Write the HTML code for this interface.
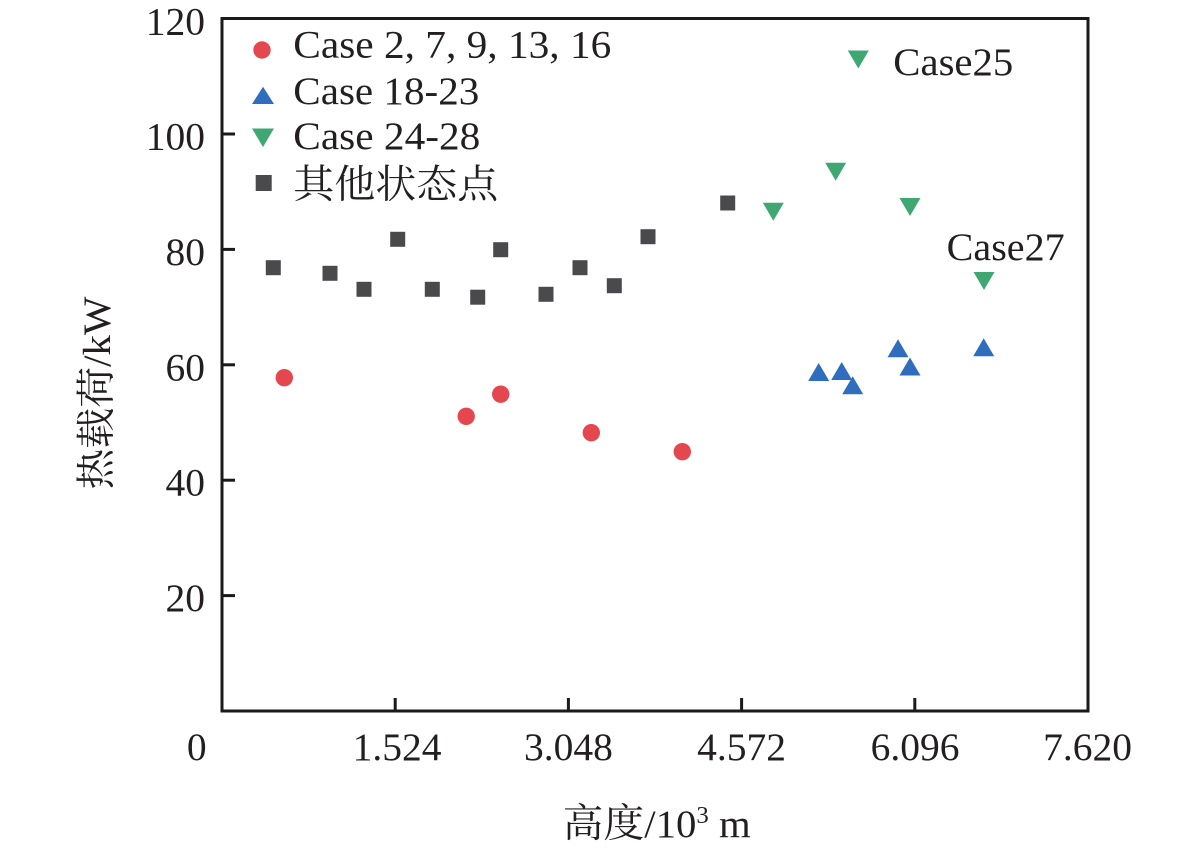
<!DOCTYPE html>
<html>
<head>
<meta charset="utf-8">
<style>
  html,body{margin:0;padding:0;background:#fff;}
  svg{display:block;}
  text{font-family:"Liberation Serif","Noto Serif CJK SC",serif;fill:#231f20;}
</style>
</head>
<body>
<svg width="1181" height="851" viewBox="0 0 1181 851" xmlns="http://www.w3.org/2000/svg">
  <!-- plot frame -->
  <rect x="222" y="18.5" width="866" height="692.5" fill="none" stroke="#1a1a1a" stroke-width="3"/>
  <!-- y ticks -->
  <g stroke="#1a1a1a" stroke-width="3">
    <line x1="222" y1="595.6" x2="235" y2="595.6"/>
    <line x1="222" y1="480.2" x2="235" y2="480.2"/>
    <line x1="222" y1="364.8" x2="235" y2="364.8"/>
    <line x1="222" y1="249.4" x2="235" y2="249.4"/>
    <line x1="222" y1="134" x2="235" y2="134"/>
    <!-- x ticks -->
    <line x1="395.2" y1="711" x2="395.2" y2="698"/>
    <line x1="568.4" y1="711" x2="568.4" y2="698"/>
    <line x1="741.6" y1="711" x2="741.6" y2="698"/>
    <line x1="914.8" y1="711" x2="914.8" y2="698"/>
  </g>
  <!-- y tick labels -->
  <g font-size="39.5" text-anchor="end">
    <text x="205" y="34.5">120</text>
    <text x="205" y="149.5">100</text>
    <text x="205" y="265">80</text>
    <text x="205" y="380.3">60</text>
    <text x="205" y="495.7">40</text>
    <text x="205" y="611.1">20</text>
  </g>
  <!-- x tick labels -->
  <g font-size="39.5" text-anchor="middle">
    <text x="196.7" y="760">0</text>
    <text x="397" y="760">1.524</text>
    <text x="568.4" y="760">3.048</text>
    <text x="741.6" y="760">4.572</text>
    <text x="915" y="760">6.096</text>
    <text x="1087.5" y="760">7.620</text>
  </g>
  <!-- axis titles -->
  <text x="562.7" y="837" font-size="39.5" textLength="188" lengthAdjust="spacingAndGlyphs">高度/10<tspan font-size="24" dy="-14">3</tspan><tspan dy="14"> m</tspan></text>
  <text transform="translate(110,393) rotate(-90)" font-size="39.5" text-anchor="middle" textLength="193" lengthAdjust="spacingAndGlyphs">热载荷/kW</text>

  <!-- gray squares -->
  <g fill="#4a4a4c">
    <rect x="265.8" y="260.2" width="15" height="15"/>
    <rect x="322.5" y="265.8" width="15" height="15"/>
    <rect x="356.5" y="281.8" width="15" height="15"/>
    <rect x="390.2" y="231.8" width="15" height="15"/>
    <rect x="424.8" y="281.8" width="15" height="15"/>
    <rect x="470.2" y="289.7" width="15" height="15"/>
    <rect x="493.2" y="242.2" width="15" height="15"/>
    <rect x="538.5" y="286.8" width="15" height="15"/>
    <rect x="572.5" y="260.2" width="15" height="15"/>
    <rect x="606.8" y="278.2" width="15" height="15"/>
    <rect x="640.5" y="229.2" width="15" height="15"/>
    <rect x="720.2" y="195.5" width="15" height="15"/>
  </g>
  <!-- red circles -->
  <g fill="#e5474e">
    <circle cx="284.3" cy="377.7" r="8.7"/>
    <circle cx="466.2" cy="416.3" r="8.7"/>
    <circle cx="500.7" cy="394.2" r="8.7"/>
    <circle cx="591.3" cy="432.7" r="8.7"/>
    <circle cx="682.3" cy="451.7" r="8.7"/>
  </g>
  <!-- green down triangles -->
  <g fill="#3fa872">
    <polygon points="847.8,50.5 868.8,50.5 858.3,68.5"/>
    <polygon points="825.2,162.7 846.2,162.7 835.7,180.7"/>
    <polygon points="762.8,202.7 783.8,202.7 773.3,220.7"/>
    <polygon points="899.5,198 920.5,198 910,216"/>
    <polygon points="973.5,272 994.5,272 984,290"/>
  </g>
  <!-- blue up triangles -->
  <g fill="#2f6dbd">
    <polygon points="808.2,381 829.2,381 818.7,363"/>
    <polygon points="831.2,380 852.2,380 841.7,362"/>
    <polygon points="842.2,394.3 863.2,394.3 852.7,376.3"/>
    <polygon points="887.5,357.3 908.5,357.3 898,339.3"/>
    <polygon points="899.5,375.5 920.5,375.5 910,357.5"/>
    <polygon points="973.2,356.2 994.2,356.2 983.7,338.2"/>
  </g>
  <!-- annotations -->
  <text x="893.3" y="75" font-size="39.5" textLength="120" lengthAdjust="spacingAndGlyphs">Case25</text>
  <text x="946.7" y="260" font-size="39.5" textLength="118" lengthAdjust="spacingAndGlyphs">Case27</text>

  <!-- legend -->
  <circle cx="262" cy="50" r="8.7" fill="#e5474e"/>
  <polygon points="252,104 274,104 263,86.7" fill="#2f6dbd"/>
  <polygon points="252,128.5 274,128.5 263,147" fill="#3fa872"/>
  <rect x="255.7" y="175" width="16" height="16" fill="#4a4a4c"/>
  <g font-size="39.5">
    <text x="293.3" y="57.5" textLength="318" lengthAdjust="spacingAndGlyphs">Case 2, 7, 9, 13, 16</text>
    <text x="293.3" y="104" textLength="186" lengthAdjust="spacingAndGlyphs">Case 18-23</text>
    <text x="293.3" y="149" textLength="187" lengthAdjust="spacingAndGlyphs">Case 24-28</text>
    <text x="293.3" y="198" textLength="205" lengthAdjust="spacingAndGlyphs">其他状态点</text>
  </g>
</svg>
</body>
</html>
